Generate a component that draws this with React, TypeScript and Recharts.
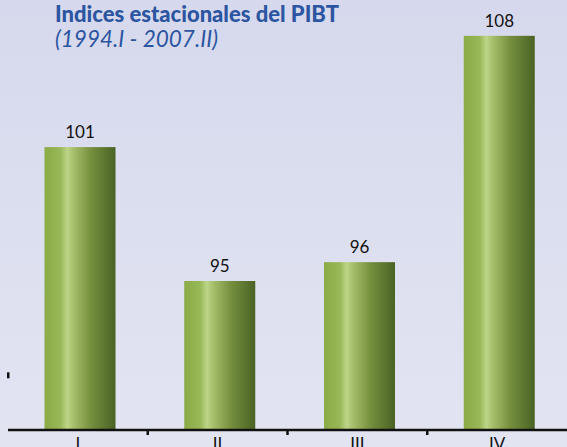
import { BarChart, Bar, XAxis, YAxis, LabelList } from "recharts";

const quarters = ["I", "II", "III", "IV"];
// bar heights as drawn; printed labels differ slightly for the first quarter
const indexValues = [102.1, 95, 96, 108];
const indexLabels = ["101", "95", "96", "108"];
const yTicks = [90];

const data = quarters.map((q, i) => ({
  q,
  value: indexValues[i],
  label: indexLabels[i],
}));

const W = 567;
const H = 447;
const Y_W = 8;
const AXIS_Y = 430;
const STEP = (W - Y_W) / quarters.length;

const XTick = (props: any) => {
  const { x, payload, index } = props;
  const edge = x + STEP / 2;
  return (
    <g>
      <text
        x={x}
        y={AXIS_Y + 20}
        textAnchor="middle"
        fontSize={17}
        fontFamily="Lato, 'DejaVu Sans', sans-serif"
        fill="#111"
      >
        {payload.value}
      </text>
      {index < quarters.length - 1 && (
        <line x1={edge} x2={edge} y1={AXIS_Y} y2={AXIS_Y + 5} stroke="#111" strokeWidth={2.5} />
      )}
    </g>
  );
};

const YTick = (props: any) => {
  const { y } = props;
  return <rect x={7} y={y - 3} width={2.5} height={6} fill="#111" />;
};

const GradBar = (props: any) => {
  const { x, y, width, height } = props;
  return <rect x={x + 2.5} y={y} width={width} height={height} fill="url(#barGrad)" />;
};

export default function App() {
  return (
    <div
      style={{
        position: "absolute",
        left: 0,
        top: 0,
        width: W,
        height: H,
        background: "linear-gradient(180deg, #d6d9ed 0%, #dcdfef 50%, #e2e4f2 100%)",
        overflow: "hidden",
      }}
    >
      <div
        style={{
          position: "absolute",
          left: 55,
          top: 1,
          color: "#2c55a1",
          fontFamily: "Lato, 'DejaVu Sans', sans-serif",
          fontSize: 22,
        }}
      >
        <div style={{ fontWeight: 900, lineHeight: "26px", height: 26 }}>
          Indices estacionales del PIBT
        </div>
        <div style={{ fontStyle: "italic", fontSize: 22.5, lineHeight: "24px" }}>
          (1994.I - 2007.II)
        </div>
      </div>
      <BarChart
        width={W}
        height={H}
        data={data}
        margin={{ top: 0, right: 0, bottom: 0, left: 0 }}
      >
        <defs>
          <linearGradient id="barGrad" x1="0" y1="0" x2="1" y2="0">
            <stop offset="0%" stopColor="#8aab46" />
            <stop offset="22%" stopColor="#98b757" />
            <stop offset="32%" stopColor="#bdd587" />
            <stop offset="42%" stopColor="#a2bc68" />
            <stop offset="65%" stopColor="#76903f" />
            <stop offset="100%" stopColor="#4a6224" />
          </linearGradient>
        </defs>
        <XAxis
          dataKey="q"
          height={H - AXIS_Y}
          axisLine={{ stroke: "#111", strokeWidth: 2.5 }}
          tickLine={false}
          tick={<XTick />}
          interval={0}
        />
        <YAxis
          width={Y_W}
          domain={[87.1, 109.9]}
          ticks={yTicks}
          axisLine={false}
          tickLine={false}
          tick={<YTick />}
        />
        <Bar dataKey="value" barSize={71} shape={<GradBar />} isAnimationActive={false}>
          <LabelList
            dataKey="label"
            position="top"
            offset={9}
            fontSize={17}
            fontFamily="Lato, 'DejaVu Sans', sans-serif"
            fill="#111"
            dx={2.5}
          />
        </Bar>
      </BarChart>
    </div>
  );
}
